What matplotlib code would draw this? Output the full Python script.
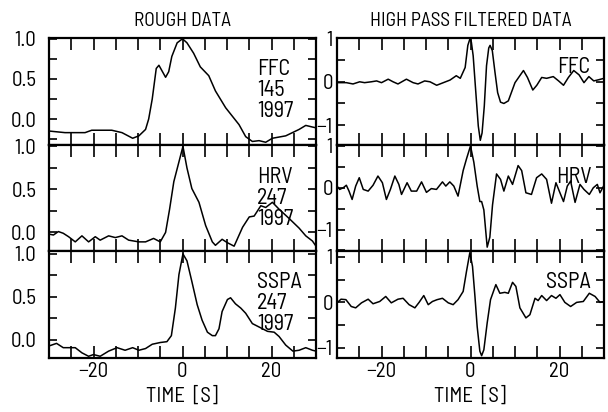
import matplotlib
matplotlib.use("Agg")
import matplotlib.pyplot as plt
from matplotlib.ticker import MultipleLocator, FixedLocator

plt.rcParams['font.family'] = ['Barlow Semi Condensed', 'DejaVu Sans']

# ---- rough data (normalised) ----
t_ffc_rough = [-30, -26.4, -21.9, -20.4, -15.9, -13.6, -11.2, -9.8, -8.3, -7.6, -6.8, -5.9,
               -5.3, -4.7, -3.8, -3.1, -2.4, -1.2, 0, 1.0, 2.5, 4.0, 5.9, 7.4, 9.7, 12.7,
               14.2, 15.7, 17.2, 18.7, 20.2, 23.2, 26.2, 27.7, 29.2, 30]
v_ffc_rough = [-0.15, -0.17, -0.17, -0.14, -0.14, -0.17, -0.24, -0.21, -0.13, 0.0, 0.25, 0.63,
               0.67, 0.61, 0.52, 0.59, 0.78, 0.95, 1.0, 0.95, 0.82, 0.65, 0.54, 0.35, 0.14, -0.07,
               -0.22, -0.28, -0.27, -0.29, -0.24, -0.21, -0.13, -0.08, -0.10, -0.11]

t_hrv_rough = [-30, -29.0, -27.9, -26.8, -25.6, -24.1, -22.6, -21.1, -19.6, -18.5, -16.6,
               -15.1, -13.6, -12.1, -9.8, -8.3, -6.5, -5.0, -3.8, -2.9, -1.95, -0.8, 0.1,
               1.0, 2.1, 3.7, 5.2, 6.7, 7.4, 8.9, 10.1, 11.6, 13.5, 15.0, 16.1, 17.6, 18.7,
               20.2, 21.7, 24.0, 26.2, 27.7, 29.2, 30]
v_hrv_rough = [-0.02, -0.03, 0.01, -0.01, -0.05, -0.11, -0.04, -0.11, -0.05, -0.09, -0.04,
               -0.06, -0.04, -0.09, -0.11, -0.11, -0.07, -0.11, 0.0, 0.27, 0.59, 0.82, 1.0,
               0.75, 0.51, 0.35, 0.08, -0.11, -0.15, -0.08, -0.12, -0.16, 0.06, 0.18, 0.19,
               0.31, 0.29, 0.35, 0.27, 0.16, 0.05, -0.04, -0.10, -0.16]

t_sspa_rough = [-30, -28.3, -26.8, -24.1, -22.6, -21.1, -20.0, -18.5, -16.6, -14.7, -12.9,
                -11.2, -9.8, -8.3, -6.8, -5.0, -3.5, -2.5, -1.6, -0.8, 0.1, 1.0, 2.1, 3.3,
                4.4, 5.6, 6.7, 7.4, 8.2, 8.9, 10.1, 10.8, 11.9, 13.1, 14.2, 15.7, 17.6, 19.1,
                20.6, 21.7, 23.2, 24.8, 26.2, 27.7, 29.2, 30]
v_sspa_rough = [-0.07, -0.04, -0.09, -0.09, -0.15, -0.19, -0.17, -0.19, -0.13, -0.09, -0.12,
                -0.09, -0.12, -0.10, -0.05, -0.03, -0.02, 0.05, 0.37, 0.76, 1.0, 0.92, 0.68,
                0.41, 0.23, 0.09, 0.05, 0.05, 0.13, 0.33, 0.47, 0.49, 0.42, 0.37, 0.31, 0.19,
                0.14, 0.10, 0.09, 0.04, -0.06, -0.13, -0.12, -0.09, -0.12, -0.13]

# ---- high pass filtered data ----
t_ffc_hp = [-30, -27.9, -26.4, -24.9, -23.8, -22.3, -21.1, -20.0, -18.5, -17.4, -16.3, -14.4,
            -12.9, -11.8, -10.3, -9.1, -7.6, -6.1, -4.6, -3.2, -2.3, -1.2, -0.6, -0.1, 0.2,
            0.6, 1.2, 1.75, 2.2, 2.6, 3.1, 3.6, 4.1, 4.4, 4.9, 5.5, 6.1, 6.75, 7.5, 8.5,
            10.0, 11.9, 12.8, 14.0, 14.9, 16.0, 17.1, 18.6, 19.8, 20.9, 22.0, 23.2, 24.4,
            25.5, 26.6, 27.7, 28.9, 30]
v_ffc_hp = [-0.02, -0.02, -0.05, 0.0, -0.02, 0.0, 0.02, -0.02, 0.06, 0.0, -0.05, 0.06,
            -0.02, -0.05, 0.02, 0.0, -0.08, -0.02, 0.04, 0.14, 0.08, 0.33, 0.84, 1.0, 0.91,
            0.60, -0.25, -1.02, -1.35, -1.18, -0.56, 0.37, 0.78, 0.84, 0.72, 0.22, -0.25,
            -0.47, -0.50, -0.44, -0.02, 0.26, 0.10, -0.19, -0.08, 0.10, 0.08, 0.12, 0.02,
            -0.08, 0.10, 0.26, 0.16, -0.02, 0.12, 0.02, 0.05, 0.08]

t_hrv_hp = [-30, -29.4, -28.6, -27.9, -27.3, -26.6, -25.8, -25.0, -24.1, -23.0, -21.9, -20.8,
            -19.8, -18.9, -18.0, -17.0, -16.1, -15.5, -14.25, -13.3, -12.1, -11.0, -9.9,
            -8.8, -7.65, -6.3, -5.55, -4.65, -3.75, -2.8, -1.65, -0.9, 0.0, 0.75, 1.5, 2.1,
            2.5, 3.0, 3.75, 4.35, 4.95, 5.85, 6.75, 7.5, 8.5, 9.45, 10.7, 11.5, 12.45, 13.7,
            14.85, 16.0, 17.1, 18.2, 19.2, 20.1, 20.9, 21.75, 22.5, 23.5, 24.6, 25.5, 26.7,
            27.6, 28.5, 29.1, 30]
v_hrv_hp = [0.04, -0.04, 0.0, 0.06, -0.08, -0.28, 0.04, 0.24, -0.04, -0.08, 0.06, 0.28,
            0.12, -0.28, -0.04, 0.28, 0.08, -0.16, 0.12, -0.08, -0.08, 0.14, -0.11, -0.02,
            -0.04, 0.14, 0.04, 0.14, 0.04, -0.20, 0.41, 0.69, 1.0, 0.61, 0.04, -0.33, -0.33,
            -0.53, -1.42, -1.18, -0.41, 0.33, 0.20, -0.08, 0.28, 0.08, 0.53, 0.41, -0.12,
            -0.16, 0.24, 0.33, 0.20, -0.37, 0.12, -0.12, -0.33, 0.04, 0.16, -0.35, 0.08,
            -0.04, -0.16, 0.0, 0.08, -0.12, 0.06]

t_sspa_hp = [-30, -29.1, -28.0, -26.8, -25.8, -24.5, -23.0, -21.9, -20.4, -19.05, -17.8,
             -16.3, -15.15, -13.8, -12.5, -11.55, -10.5, -9.5, -8.55, -7.5, -6.3, -5.0, -3.9,
             -2.8, -1.65, -0.9, -0.15, 0.45, 1.0, 1.5, 2.1, 2.5, 3.0, 3.75, 4.5, 5.7, 6.6,
             7.7, 8.5, 9.45, 10.2, 11.1, 12.45, 13.35, 14.5, 15.2, 16.0, 17.1, 18.2, 19.2,
             20.1, 21.2, 22.5, 23.85, 25.35, 26.7, 28.0, 29.1, 30]
v_sspa_hp = [-0.01, 0.07, 0.06, -0.09, -0.12, -0.01, 0.07, -0.03, 0.02, 0.13, -0.01, 0.07,
             0.09, -0.05, -0.12, 0.0, 0.15, -0.05, 0.02, 0.06, 0.09, -0.01, -0.05, 0.06, 0.24,
             0.68, 1.09, 0.79, 0.13, -0.53, -1.07, -1.17, -1.04, -0.45, 0.06, 0.39, 0.20,
             0.22, 0.20, 0.44, 0.35, -0.12, -0.34, -0.27, 0.09, 0.04, 0.15, 0.04, 0.15, 0.09,
             0.17, 0.0, -0.09, 0.0, 0.02, 0.20, 0.13, 0.0, 0.02]

stations = ['FFC\n145\n1997', 'HRV\n247\n1997', 'SSPA\n247\n1997']
hp_names = ['FFC', 'HRV', 'SSPA']

rough = [(t_ffc_rough, v_ffc_rough), (t_hrv_rough, v_hrv_rough), (t_sspa_rough, v_sspa_rough)]
hp = [(t_ffc_hp, v_ffc_hp), (t_hrv_hp, v_hrv_hp), (t_sspa_hp, v_sspa_hp)]
rough_ylims = [(-0.32, 1.01), (-0.22, 1.02), (-0.21, 1.03)]
hp_ylims = [(-1.45, 1.01), (-1.52, 1.03), (-1.22, 1.12)]
rough_label_pos = [(0.78, 0.80), (0.78, 0.79), (0.78, 0.81)]
hp_label_pos = [(0.824, 0.82), (0.82, 0.79), (0.783, 0.81)]

fig = plt.figure(figsize=(6.08, 4.12), dpi=100)

W = 608.0
H = 412.0
top_px, bot_px = 38, 358
row_h = (bot_px - top_px) / 3.0


def style_axis(ax, right_col):
    ax.set_xlim(-30, 30)
    ax.xaxis.set_major_locator(FixedLocator([-20, 0, 20]))
    ax.xaxis.set_minor_locator(MultipleLocator(5))
    if right_col:
        ax.yaxis.set_major_locator(FixedLocator([-1, 0, 1]))
        ax.yaxis.set_minor_locator(MultipleLocator(0.5))
        ax.set_yticklabels(['\u22121', '0', '1'])
        ypad = 3
    else:
        ax.yaxis.set_major_locator(FixedLocator([0.0, 0.5, 1.0]))
        ax.yaxis.set_minor_locator(MultipleLocator(0.25))
        ax.set_yticklabels(['0.0', '0.5', '1.0'])
        ypad = 9
    ax.tick_params(which='both', direction='in', top=True, right=True, width=1.2,
                   labelsize=15)
    ax.tick_params(axis='x', which='both', length=8.5, pad=3)
    ax.tick_params(axis='y', which='both', length=6, pad=ypad)
    for s in ax.spines.values():
        s.set_linewidth(1.6)


for col, (data, ylims, lpos, texts, x_px) in enumerate([
        (rough, rough_ylims, rough_label_pos, stations, 49),
        (hp, hp_ylims, hp_label_pos, hp_names, 337)]):
    for row in range(3):
        ax = fig.add_axes([x_px / W, 1 - (top_px + (row + 1) * row_h) / H, 267 / W, row_h / H])
        t, v = data[row]
        ax.plot(t, v, color='black', lw=1.1)
        ax.set_ylim(*ylims[row])
        style_axis(ax, col == 1)
        ax.text(lpos[row][0], lpos[row][1], texts[row], transform=ax.transAxes,
                ha='left', va='top', fontsize=16, linespacing=1.0)
        if row == 0:
            ax.set_title('ROUGH DATA' if col == 0 else 'HIGH PASS FILTERED DATA',
                         fontsize=14, pad=9)
        if row < 2:
            ax.tick_params(labelbottom=False)
        else:
            ax.set_xlabel('TIME  [S]', fontsize=15, labelpad=4)

fig.savefig('out.png', dpi=100)
